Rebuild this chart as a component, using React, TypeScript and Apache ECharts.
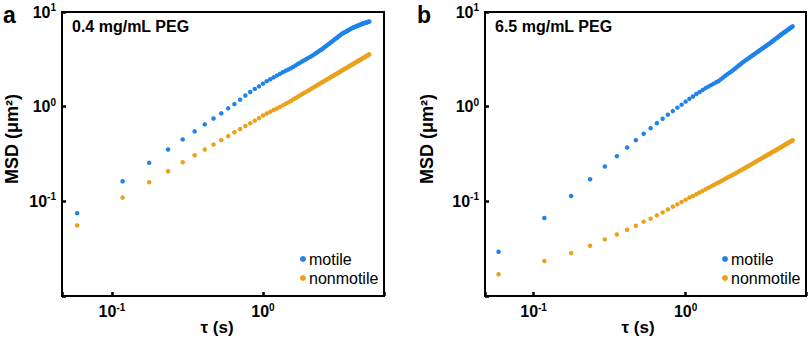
import React, { useEffect, useRef } from "react";
import * as echarts from "echarts";

// lag time step (s) between successive MSD points
const FRAME_INTERVAL = 1 / 17;

// Panel a: 0.4 mg/mL PEG
const A_MOTILE = [
  0.075, 0.163, 0.255, 0.353, 0.451, 0.548, 0.65, 0.751, 0.849, 0.96,
  1.065, 1.186, 1.31, 1.43, 1.54, 1.64, 1.75, 1.86, 1.95, 2.04,
  2.13, 2.22, 2.31, 2.39, 2.47, 2.55, 2.64, 2.73, 2.83, 2.92,
  3.02, 3.1, 3.19, 3.28, 3.36, 3.45, 3.55, 3.66, 3.76, 3.87,
  3.97, 4.07, 4.19, 4.31, 4.43, 4.55, 4.67, 4.8, 4.92, 5.04,
  5.17, 5.29, 5.42, 5.54, 5.67, 5.8, 5.91, 6.0, 6.1, 6.19,
  6.28, 6.38, 6.47, 6.56, 6.66, 6.75, 6.82, 6.89, 6.96, 7.03,
  7.09, 7.16, 7.23, 7.3, 7.36, 7.43, 7.5, 7.55, 7.6, 7.65,
  7.7, 7.75, 7.8, 7.85, 7.9, 7.95,
];
const A_NONMOTILE = [
  0.0557, 0.1094, 0.159, 0.208, 0.259, 0.307, 0.353, 0.399, 0.443, 0.489,
  0.537, 0.58, 0.624, 0.669, 0.712, 0.757, 0.806, 0.848, 0.885, 0.922,
  0.958, 0.995, 1.033, 1.071, 1.11, 1.15, 1.194, 1.236, 1.277, 1.319,
  1.36, 1.402, 1.443, 1.484, 1.526, 1.567, 1.608, 1.649, 1.69, 1.731,
  1.772, 1.813, 1.853, 1.894, 1.935, 1.975, 2.016, 2.056, 2.097, 2.137,
  2.178, 2.218, 2.258, 2.298, 2.339, 2.379, 2.419, 2.459, 2.499, 2.539,
  2.579, 2.619, 2.659, 2.699, 2.739, 2.779, 2.818, 2.858, 2.898, 2.938,
  2.977, 3.017, 3.056, 3.096, 3.135, 3.175, 3.214, 3.253, 3.293, 3.332,
  3.372, 3.411, 3.45, 3.489, 3.528, 3.567,
];

// Panel b: 6.5 mg/mL PEG
const B_MOTILE = [
  0.0293, 0.0667, 0.114, 0.171, 0.233, 0.3, 0.371, 0.443, 0.518, 0.593,
  0.67, 0.746, 0.823, 0.898, 0.976, 1.05, 1.13, 1.21, 1.28, 1.36,
  1.43, 1.5, 1.57, 1.63, 1.69, 1.75, 1.81, 1.87, 1.95, 2.03,
  2.12, 2.2, 2.28, 2.35, 2.44, 2.53, 2.63, 2.72, 2.81, 2.91,
  2.99, 3.08, 3.16, 3.24, 3.33, 3.41, 3.49, 3.58, 3.66, 3.75,
  3.83, 3.92, 4.0, 4.09, 4.17, 4.26, 4.34, 4.43, 4.52, 4.6,
  4.69, 4.78, 4.88, 4.98, 5.07, 5.17, 5.26, 5.36, 5.46, 5.55,
  5.65, 5.75, 5.85, 5.94, 6.03, 6.12, 6.21, 6.31, 6.4, 6.49,
  6.58, 6.68, 6.77, 6.86, 6.96, 7.05,
];
const B_NONMOTILE = [
  0.017, 0.0234, 0.0284, 0.034, 0.0396, 0.0447, 0.0501, 0.0553, 0.061, 0.0656,
  0.0711, 0.0764, 0.0822, 0.0879, 0.0929, 0.0986, 0.104, 0.11, 0.114, 0.119,
  0.124, 0.129, 0.134, 0.139, 0.144, 0.149, 0.154, 0.158, 0.163, 0.168,
  0.173, 0.178, 0.183, 0.187, 0.192, 0.197, 0.202, 0.207, 0.212, 0.217,
  0.221, 0.226, 0.231, 0.236, 0.241, 0.246, 0.251, 0.256, 0.261, 0.266,
  0.271, 0.276, 0.281, 0.286, 0.291, 0.296, 0.3, 0.305, 0.31, 0.315,
  0.32, 0.325, 0.33, 0.334, 0.339, 0.344, 0.349, 0.354, 0.358, 0.363,
  0.368, 0.373, 0.378, 0.383, 0.388, 0.393, 0.398, 0.403, 0.407, 0.412,
  0.417, 0.422, 0.427, 0.432, 0.437, 0.442,
];

const PANEL_LETTERS = ["a", "b"];
const PANEL_TITLES = ["0.4 mg/mL PEG", "6.5 mg/mL PEG"];
const SERIES_NAMES = ["motile", "nonmotile"];
const X_TITLE = "τ (s)";
const Y_TITLE = "MSD (μm²)";

const BLUE = "#1F83E8";
const ORANGE = "#EBA11C";
const FONT = "Liberation Sans, Arial, Helvetica, sans-serif";

const toPairs = (vals: number[]) =>
  vals.map((v, i) => [(i + 1) * FRAME_INTERVAL, v]);

const powLabel = (v: number) => {
  const lg = Math.log10(v);
  const e = Math.round(lg);
  if (Math.abs(lg - e) > 0.01) return "";
  if (e < -1 || e > 1) return e === 1 ? "{b|10}{s|1}" : "";
  return `{b|10}{s|${e}}`;
};

const labelRich = {
  b: { fontSize: 16, fontWeight: "bold", fontFamily: FONT, color: "#000" },
  s: {
    fontSize: 10,
    fontWeight: "bold",
    fontFamily: FONT,
    color: "#000",
    padding: [0, 0, 9, 0],
  },
};

export default function App() {
  const ref = useRef<HTMLDivElement>(null);

  useEffect(() => {
    if (!ref.current) return;
    const chart = echarts.init(ref.current, null, { renderer: "svg" });

    const grids = [
      { left: 62, top: 12, width: 322, height: 284 },
      { left: 485, top: 12, width: 321, height: 284 },
    ];
    const xRanges = [
      [0.0467, 6.33],
      [0.0479, 6.19],
    ];

    const xAxis = grids.map((_, i) => ({
      type: "log",
      gridIndex: i,
      min: xRanges[i][0],
      max: xRanges[i][1],
      axisLine: { show: false },
      axisTick: { show: true, inside: true, length: 4, lineStyle: { color: "#000", width: 2.5 } },
      minorTick: { show: false },
      splitLine: { show: false },
      axisLabel: { formatter: powLabel, rich: labelRich, margin: 6 },
    }));
    const yAxis = grids.map((_, i) => ({
      type: "log",
      gridIndex: i,
      min: 0.01,
      max: 10,
      axisLine: { show: false },
      axisTick: { show: true, inside: true, length: 4, lineStyle: { color: "#000", width: 2.5 } },
      minorTick: { show: false },
      splitLine: { show: false },
      axisLabel: { formatter: powLabel, rich: labelRich, margin: 6 },
    }));

    const panels = [
      [A_MOTILE, A_NONMOTILE],
      [B_MOTILE, B_NONMOTILE],
    ];
    const series: any[] = [];
    panels.forEach((pair, gi) => {
      pair.forEach((vals, si) => {
        series.push({
          type: "scatter",
          name: SERIES_NAMES[si],
          xAxisIndex: gi,
          yAxisIndex: gi,
          data: toPairs(vals),
          symbol: "circle",
          symbolSize: 4.5,
          itemStyle: { color: si === 0 ? BLUE : ORANGE, opacity: 1 },
        });
      });
    });

    const legendPos = [
      { left: 300, top: 251 },
      { left: 722, top: 251 },
    ];

    const textStyleBold = (size: number) => ({
      fontFamily: FONT,
      fontWeight: "bold",
      fontSize: size,
      fill: "#000",
    });

    const graphic: any[] = [];
    const letterX = [3, 417];
    const titleX = [72, 495];
    const xNameX = [217, 638];
    const yNameX = [12, 427];
    [0, 1].forEach((i) => {
      graphic.push({
        type: "text",
        x: letterX[i],
        y: 15,
        style: { text: PANEL_LETTERS[i], ...textStyleBold(23), textAlign: "left", textVerticalAlign: "middle" },
      });
      graphic.push({
        type: "text",
        x: titleX[i],
        y: 26,
        style: { text: PANEL_TITLES[i], ...textStyleBold(16), textAlign: "left", textVerticalAlign: "middle" },
      });
      graphic.push({
        type: "text",
        x: xNameX[i],
        y: 327,
        style: { text: X_TITLE, ...textStyleBold(17), textAlign: "center", textVerticalAlign: "middle" },
      });
      graphic.push({
        type: "text",
        x: yNameX[i],
        y: 139,
        rotation: Math.PI / 2,
        style: { text: Y_TITLE, ...textStyleBold(18), textAlign: "center", textVerticalAlign: "middle" },
      });
    });

    chart.setOption({
      animation: false,
      backgroundColor: "#fff",
      grid: grids.map((g) => ({
        ...g,
        show: true,
        borderColor: "#000",
        borderWidth: 2,
        backgroundColor: "transparent",
      })),
      xAxis,
      yAxis,
      legend: legendPos.map((p) => ({
        ...p,
        orient: "vertical",
        padding: 0,
        itemGap: 3,
        itemWidth: 6,
        itemHeight: 6,
        icon: "circle",
        selectedMode: false,
        textStyle: { fontFamily: FONT, fontSize: 16, color: "#000", padding: [0, 0, 0, -2] },
        data: SERIES_NAMES.map((n) => ({ name: n })),
      })),
      series,
      graphic,
    });

    return () => chart.dispose();
  }, []);

  return (
    <div
      ref={ref}
      style={{ position: "fixed", left: 0, top: 0, width: 809, height: 339, background: "#fff" }}
    />
  );
}
